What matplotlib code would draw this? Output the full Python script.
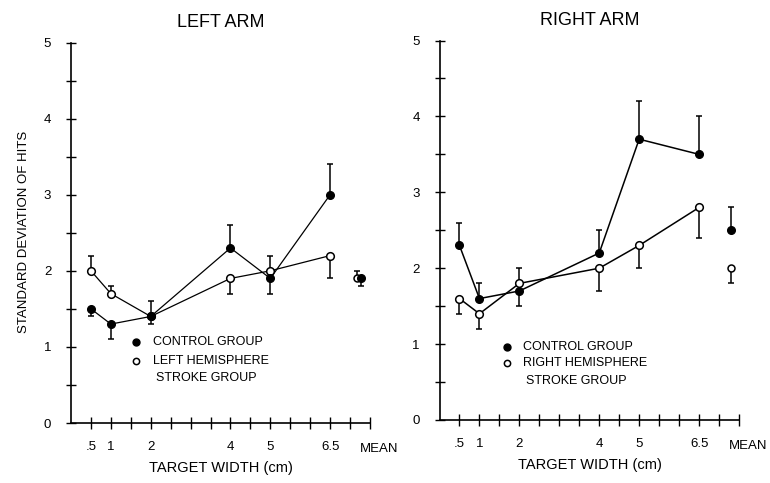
import matplotlib
matplotlib.use("Agg")
import matplotlib.pyplot as plt
from matplotlib.ticker import FixedLocator

plt.rcParams['font.family'] = ['Liberation Sans', 'DejaVu Sans']

# ---------------- data ----------------
widths = [0.5, 1, 2, 4, 5, 6.5]
width_labels = [".5", "1", "2", "4", "5", "6.5"]

# LEFT ARM
left_control = [1.5, 1.3, 1.4, 2.3, 1.9, 3.0]
left_control_lo = [0.1, 0.2, 0.1, 0.0, 0.2, 0.0]
left_control_hi = [0.0, 0.0, 0.0, 0.3, 0.0, 0.4]
left_stroke = [2.0, 1.7, 1.4, 1.9, 2.0, 2.2]
left_stroke_lo = [0.0, 0.0, 0.0, 0.2, 0.0, 0.3]
left_stroke_hi = [0.2, 0.1, 0.2, 0.0, 0.2, 0.0]
left_control_mean, left_control_mean_lo, left_control_mean_hi = 1.9, 0.1, 0.0
left_stroke_mean, left_stroke_mean_lo, left_stroke_mean_hi = 1.9, 0.0, 0.1

# RIGHT ARM
right_control = [2.3, 1.6, 1.7, 2.2, 3.7, 3.5]
right_control_lo = [0.0, 0.0, 0.2, 0.0, 0.0, 0.0]
right_control_hi = [0.3, 0.2, 0.0, 0.3, 0.5, 0.5]
right_stroke = [1.6, 1.4, 1.8, 2.0, 2.3, 2.8]
right_stroke_lo = [0.2, 0.2, 0.0, 0.3, 0.3, 0.4]
right_stroke_hi = [0.0, 0.0, 0.2, 0.0, 0.0, 0.0]
right_control_mean, right_control_mean_lo, right_control_mean_hi = 2.5, 0.0, 0.3
right_stroke_mean, right_stroke_mean_lo, right_stroke_mean_hi = 2.0, 0.2, 0.0

titles = ["LEFT ARM", "RIGHT ARM"]
legend_labels = [["CONTROL GROUP", "LEFT HEMISPHERE", "STROKE GROUP"],
                 ["CONTROL GROUP", "RIGHT HEMISPHERE", "STROKE GROUP"]]
xlabel = "TARGET WIDTH (cm)"
ylabel = "STANDARD DEVIATION OF HITS"

# ---------------- figure ----------------
W, H = 770, 483
fig = plt.figure(figsize=(W / 100, H / 100), dpi=100)

def frac_rect(x0, x1, ytop, ybot):
    return [x0 / W, 1 - ybot / H, (x1 - x0) / W, (ybot - ytop) / H]

ax_left = fig.add_axes(frac_rect(71, 371, 41, 423))
ax_right = fig.add_axes(frac_rect(439.5, 740, 39, 420))

def xpos(w):
    return 2 * w

panels = [
    (ax_left, left_control, left_control_lo, left_control_hi,
     left_stroke, left_stroke_lo, left_stroke_hi,
     (left_control_mean, left_control_mean_lo, left_control_mean_hi, 14.55),
     (left_stroke_mean, left_stroke_mean_lo, left_stroke_mean_hi, 14.35),
     0.9, (3.25, 4.1, 1.06, 0.82, 0.59)),
    (ax_right, right_control, right_control_lo, right_control_hi,
     right_stroke, right_stroke_lo, right_stroke_hi,
     (right_control_mean, right_control_mean_lo, right_control_mean_hi, 14.6),
     (right_stroke_mean, right_stroke_mean_lo, right_stroke_mean_hi, 14.6),
     1.1, (3.4, 4.2, 0.96, 0.75, 0.52)),
]

for i, (ax, c, clo, chi, s, slo, shi, cm, sm, lw, leg) in enumerate(panels):
    xs = [xpos(w) for w in widths]
    # lines
    ax.plot(xs, c, color='black', lw=lw, zorder=2)
    ax.plot(xs, s, color='black', lw=lw, zorder=2)
    # error bars
    ax.errorbar(xs, c, yerr=[clo, chi], fmt='none', ecolor='black',
                elinewidth=1.1, capsize=2.5, capthick=1.1, zorder=3)
    ax.errorbar(xs, s, yerr=[slo, shi], fmt='none', ecolor='black',
                elinewidth=1.1, capsize=2.5, capthick=1.1, zorder=3)
    # markers
    ax.plot(xs, c, 'o', color='black', ms=5.5, zorder=5)
    ax.plot(xs, s, 'o', mfc='white', mec='black', mew=1.1, ms=5.5, zorder=4)
    # means
    cmv, cml, cmh, cmx = cm
    smv, sml, smh, smx = sm
    ax.errorbar([smx], [smv], yerr=[[sml], [smh]], fmt='none', ecolor='black',
                elinewidth=1.1, capsize=2.5, capthick=1.1, zorder=3)
    ax.errorbar([cmx], [cmv], yerr=[[cml], [cmh]], fmt='none', ecolor='black',
                elinewidth=1.1, capsize=2.5, capthick=1.1, zorder=3)
    ax.plot([smx], [smv], 'o', mfc='white', mec='black', mew=1.1, ms=5, zorder=4)
    ax.plot([cmx], [cmv], 'o', color='black', ms=5.5, zorder=5)

    # axes styling
    ax.set_xlim(0, 15.05)
    ax.set_ylim(0, 5.02)
    for sp in ['top', 'right']:
        ax.spines[sp].set_visible(False)
    for sp in ['left', 'bottom']:
        ax.spines[sp].set_linewidth(1.2)
    ax.spines['left'].set_bounds(0, 5)
    ax.spines['bottom'].set_bounds(0, 15)

    ax.yaxis.set_major_locator(FixedLocator([0, 1, 2, 3, 4, 5]))
    ax.yaxis.set_minor_locator(FixedLocator([0.5, 1.5, 2.5, 3.5, 4.5]))
    ax.set_yticklabels(["0", "1", "2", "3", "4", "5"])
    ax.tick_params(axis='y', which='both', direction='inout', length=6.5,
                   width=1.0, pad=11, labelsize=9.5)

    ax.xaxis.set_major_locator(FixedLocator(xs))
    ax.set_xticklabels(width_labels)
    ax.xaxis.set_minor_locator(FixedLocator(list(range(1, 16))))
    ax.tick_params(axis='x', which='both', direction='inout', length=8,
                   width=1.0, pad=9, labelsize=9.5)
    ax.text(14.5, -0.26, "MEAN", transform=ax.transData, ha='left', va='top',
            fontsize=9.5, clip_on=False)

    ax.set_xlabel(xlabel, fontsize=10.5, labelpad=6)
    ax.set_title(titles[i], fontsize=13, pad=10)

    # legend as text
    mx, tx, y1, y2, y3 = leg
    ax.plot([mx], [y1], 'o', color='black', ms=5, clip_on=False)
    ax.plot([mx], [y2], 'o', mfc='white', mec='black', mew=1.1, ms=4.5, clip_on=False)
    ax.text(tx, y1, legend_labels[i][0], fontsize=9, va='center', ha='left')
    ax.text(tx, y2, legend_labels[i][1], fontsize=9, va='center', ha='left')
    ax.text(tx + 0.15, y3, legend_labels[i][2], fontsize=9, va='center', ha='left')

ax_left.set_ylabel(ylabel, fontsize=9.5, labelpad=10)

fig.savefig("out.png", dpi=100)
